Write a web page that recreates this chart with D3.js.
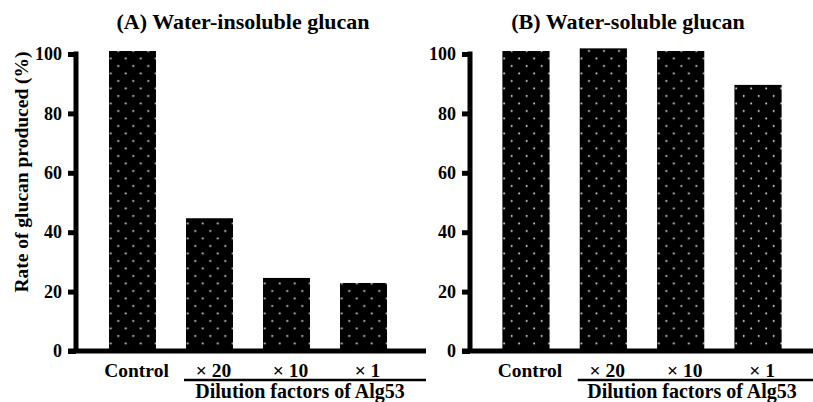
<!DOCTYPE html>
<html>
<head>
<meta charset="utf-8">
<script src="https://cdn.jsdelivr.net/npm/d3@7"></script>
</head>
<body style="margin:0;background:#fff">
<svg id="chart" width="813" height="402"></svg>
<script>
// ---- data ----
const categories = ["Control", "× 20", "× 10", "× 1"];
const insolubleValues = [101, 44.7, 24.6, 22.9];
const solubleValues = [101, 101.9, 101, 89.6];
const yTicks = [0, 20, 40, 60, 80, 100];
const panelTitles = ["(A) Water-insoluble glucan", "(B) Water-soluble glucan"];
const yLabel = "Rate of glucan produced (%)";
const xGroupLabel = "Dilution factors of Alg53";

// ---- layout ----
const FONT = "Liberation Serif";
const svg = d3.select("#chart");
const defs = svg.append("defs");
const y = d3.scaleLinear().domain([0, 100]).range([351, 54]);

function styleText(sel, size) {
  sel.attr("font-family", FONT).attr("font-weight", "bold").attr("font-size", size).attr("fill", "#000");
}

const panels = [
  { title: panelTitles[0], values: insolubleValues, axisX: 76, band: [94, 402], lineEnd: 426, titleX: 243, groupX: 300 },
  { title: panelTitles[1], values: solubleValues, axisX: 470, band: [487.3, 796.7], lineEnd: 813, titleX: 628, groupX: 692 }
];

panels.forEach((p, pi) => {
  const x = d3.scaleBand().domain(categories).range(p.band).paddingInner(0.39).paddingOuter(0.195);
  const g = svg.append("g");

  categories.forEach((c, i) => {
    const pat = defs.append("pattern")
      .attr("id", `pat-${pi}-${i}`)
      .attr("patternUnits", "userSpaceOnUse")
      .attr("x", x(c) + 5.5).attr("y", y(0) - 3.75)
      .attr("width", 15).attr("height", 15);
    pat.append("rect").attr("width", 15).attr("height", 15).attr("fill", "#000");
    pat.append("circle").attr("cx", 3.75).attr("cy", 3.75).attr("r", 1).attr("fill", "#dcdcdc");
    pat.append("circle").attr("cx", 11.25).attr("cy", 11.25).attr("r", 1).attr("fill", "#dcdcdc");
  });

  g.selectAll("rect.bar").data(p.values).join("rect")
    .attr("class", "bar")
    .attr("x", (d, i) => x(categories[i]))
    .attr("width", x.bandwidth())
    .attr("y", d => y(d))
    .attr("height", d => y(0) - y(d))
    .attr("fill", (d, i) => `url(#pat-${pi}-${i})`);

  // y axis
  const ya = g.append("g")
    .attr("transform", `translate(${p.axisX},0)`)
    .call(d3.axisLeft(y).tickValues(yTicks).tickSize(8).tickPadding(6).tickSizeOuter(0));
  ya.select(".domain").remove();
  ya.selectAll(".tick line").attr("stroke", "#000").attr("stroke-width", 5).attr("x1", 0);
  styleText(ya.selectAll(".tick text"), 18);

  // thick vertical axis line
  g.append("line")
    .attr("x1", p.axisX).attr("x2", p.axisX)
    .attr("y1", y(0)).attr("y2", y(100) - 2.5)
    .attr("stroke", "#000").attr("stroke-width", 5);

  // x baseline
  g.append("line")
    .attr("x1", p.axisX - 8).attr("x2", p.lineEnd)
    .attr("y1", y(0)).attr("y2", y(0))
    .attr("stroke", "#000").attr("stroke-width", 5);

  // x labels
  const xa = g.append("g")
    .attr("transform", `translate(4,${y(0)})`)
    .call(d3.axisBottom(x).tickSize(0).tickPadding(12.5));
  xa.select(".domain").remove();
  styleText(xa.selectAll(".tick text"), 19.5);

  g.append("line")
    .attr("x1", x(categories[1]) - 2).attr("x2", p.lineEnd)
    .attr("y1", 380).attr("y2", 380)
    .attr("stroke", "#000").attr("stroke-width", 2.5);
  g.append("text")
    .attr("x", p.groupX).attr("y", 398)
    .attr("text-anchor", "middle")
    .text(xGroupLabel)
    .call(styleText, 20);

  g.append("text")
    .attr("x", p.titleX).attr("y", 29)
    .attr("text-anchor", "middle")
    .text(p.title)
    .call(styleText, 22);
});

svg.append("text")
  .attr("transform", "translate(28,172) rotate(-90)")
  .attr("text-anchor", "middle")
  .text(yLabel)
  .call(styleText, 19.5);
</script>
</body>
</html>
